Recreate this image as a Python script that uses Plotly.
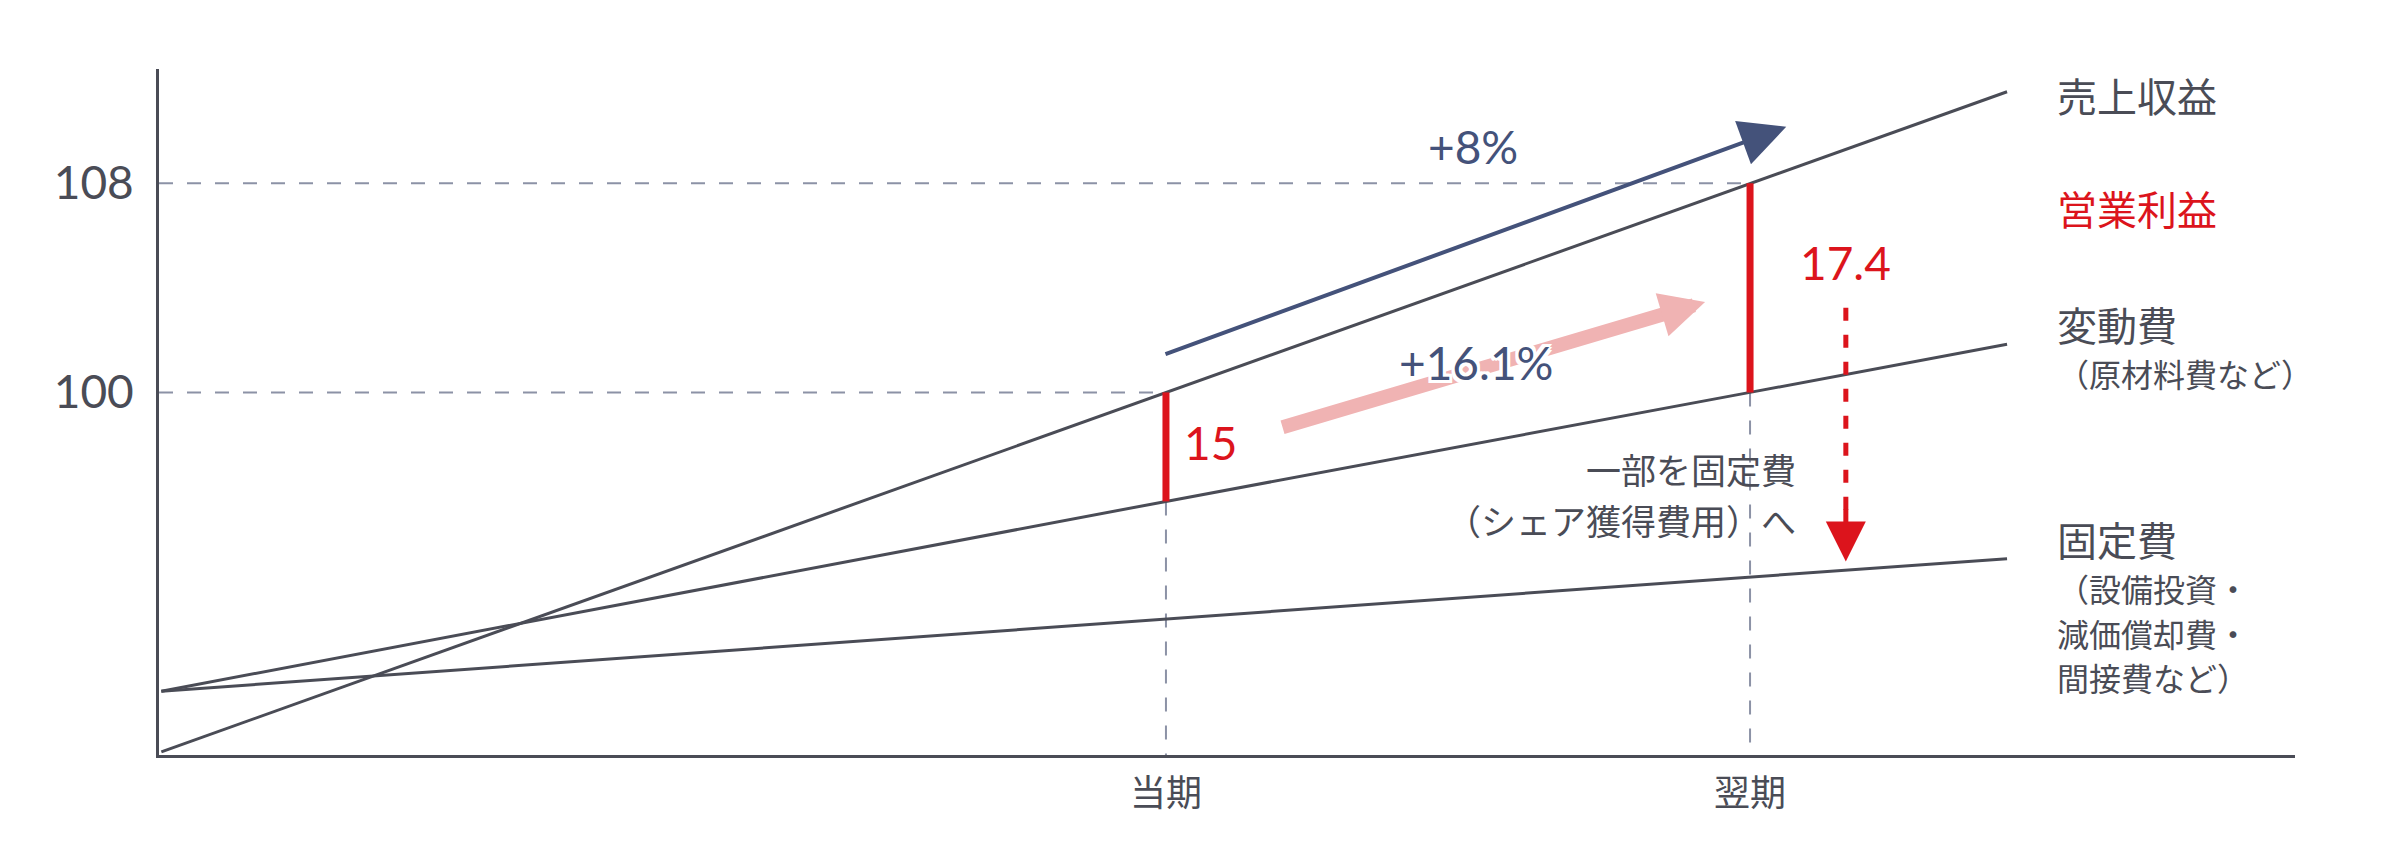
import plotly.graph_objects as go

# ---- data (schematic units: 当期 = 1, 翌期 = 2) ----
line_x = [-0.72, 1, 2, 2.44]
revenue = [86.25, 100, 108, 111.5]
variable_cost = [88.57, 95.83, 100, 101.84]
fixed_cost = [88.57, 91.33, 92.94, 93.64]

period_x = [1, 2]
period_labels = ["当期", "翌期"]
ytick_vals = [100, 108]
ytick_text = ["100", "108"]
profit_labels = ["15", "17.4"]
growth_labels = ["+8%", "+16.1%"]

x_range = [-0.724, 2.933]
y_range = [86.13, 112.37]

# colours / fonts
DARK = "#4a4c56"
NAVY = "#44527a"
RED = "#dc141c"
PINK = "#f0b3b3"
GUIDE = "#8c92a6"
JP = "Noto Sans CJK JP, Noto Sans, sans-serif"
NUM = "Lato, Noto Sans, sans-serif"

fig = go.Figure()

# dashed guide lines
for px in period_x:
    idx = line_x.index(px)
    fig.add_trace(go.Scatter(x=[x_range[0], px], y=[revenue[idx], revenue[idx]], mode="lines",
                             line=dict(color=GUIDE, width=2, dash="14px,14px"), hoverinfo="skip"))
    fig.add_trace(go.Scatter(x=[px, px], y=[variable_cost[idx], y_range[0]], mode="lines",
                             line=dict(color=GUIDE, width=2, dash="14px,14px"), hoverinfo="skip"))

# main lines
for ys in (revenue, variable_cost, fixed_cost):
    fig.add_trace(go.Scatter(x=line_x, y=ys, mode="lines",
                             line=dict(color=DARK, width=3), hoverinfo="skip"))

# profit bars
for px in period_x:
    idx = line_x.index(px)
    fig.add_trace(go.Scatter(x=[px, px], y=[variable_cost[idx], revenue[idx]], mode="lines",
                             line=dict(color=RED, width=7), hoverinfo="skip"))

# red dashed arrow shaft
arrow_x = 2.164
fig.add_trace(go.Scatter(x=[arrow_x, arrow_x], y=[103.24, 95.3], mode="lines",
                         line=dict(color=RED, width=5, dash="13px,14px"), hoverinfo="skip"))

annotations = []
# arrows
annotations.append(dict(x=2.062, y=110.16, ax=0.9966, ay=101.44, xref="x", yref="y",
                        axref="x", ayref="y", showarrow=True, arrowhead=2, arrowsize=2.3,
                        arrowwidth=4, arrowcolor=NAVY, text=""))
annotations.append(dict(x=1.923, y=103.46, ax=1.197, ay=98.65, xref="x", yref="y",
                        axref="x", ayref="y", showarrow=True, arrowhead=2, arrowsize=0.64,
                        arrowwidth=14, arrowcolor=PINK, text=""))
annotations.append(dict(x=arrow_x, y=93.53, ax=arrow_x, ay=95.6, xref="x", yref="y",
                        axref="x", ayref="y", showarrow=True, arrowhead=2, arrowsize=1.6,
                        arrowwidth=5, arrowcolor=RED, text=""))

halo = ("-3px -3px 0 #fff, 3px -3px 0 #fff, -3px 3px 0 #fff, 3px 3px 0 #fff, "
        "0 3px 0 #fff, 0 -3px 0 #fff, 3px 0 0 #fff, -3px 0 0 #fff")
annotations.append(dict(x=1.525, y=109.4, text=growth_labels[0], showarrow=False,
                        font=dict(family=NUM, size=46, color=NAVY)))
annotations.append(dict(x=1.531, y=101.15, text=growth_labels[1], showarrow=False,
                        font=dict(family=NUM, size=46, color=NAVY, shadow=halo)))
annotations.append(dict(x=1.028, y=98.1, text=profit_labels[0], showarrow=False, xanchor="left",
                        font=dict(family=NUM, size=46, color=RED)))
annotations.append(dict(x=arrow_x, y=104.95, text=profit_labels[1], showarrow=False,
                        font=dict(family=NUM, size=46, color=RED)))

annotations.append(dict(x=2.082, y=97.1, text="一部を固定費", showarrow=False, xanchor="right",
                        font=dict(family=JP, size=35, color=DARK)))
annotations.append(dict(x=2.082, y=95.15, text="（シェア獲得費用）へ", showarrow=False, xanchor="right",
                        font=dict(family=JP, size=35, color=DARK)))

# right-hand labels
lab_x = 2.522
right_labels = [
    ("売上収益", 111.38, 40, DARK),
    ("営業利益", 107.06, 40, RED),
    ("変動費", 102.63, 40, DARK),
    ("（原材料費など）", 100.75, 32, DARK),
    ("固定費", 94.4, 40, DARK),
    ("（設備投資・", 92.53, 32, DARK),
    ("減価償却費・", 90.81, 32, DARK),
    ("間接費など）", 89.13, 32, DARK),
]
for txt, yy, sz, col in right_labels:
    annotations.append(dict(x=lab_x, y=yy, text=txt, showarrow=False, xanchor="left",
                            font=dict(family=JP, size=sz, color=col)))

fig.update_layout(
    width=2396, height=856,
    margin=dict(l=151, r=109, t=61, b=109),
    paper_bgcolor="white", plot_bgcolor="white",
    showlegend=False,
    annotations=annotations,
    xaxis=dict(range=x_range, showgrid=False, zeroline=False, showline=True,
               linecolor=DARK, linewidth=3, tickvals=period_x, ticktext=period_labels,
               ticks="outside", ticklen=5, tickcolor="rgba(0,0,0,0)",
               tickfont=dict(family=JP, size=36, color=DARK)),
    yaxis=dict(range=y_range, showgrid=False, zeroline=False, showline=True,
               linecolor=DARK, linewidth=3, tickvals=ytick_vals, ticktext=ytick_text,
               ticks="outside", ticklen=13, tickcolor="rgba(0,0,0,0)",
               tickfont=dict(family=NUM, size=46, color=DARK)),
)

fig.write_html("out.html")
